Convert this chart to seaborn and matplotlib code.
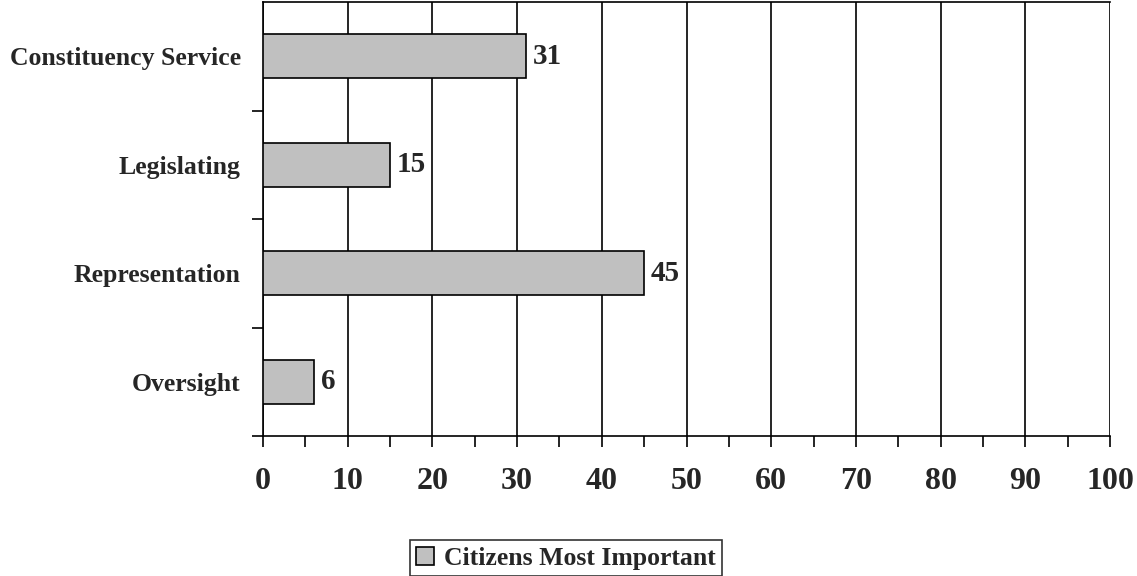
import pandas as pd
import matplotlib.pyplot as plt
import seaborn as sns
from matplotlib.ticker import MultipleLocator, FixedLocator

categories = ["Constituency Service", "Legislating", "Representation", "Oversight"]
values = [31, 15, 45, 6]
series_name = "Citizens Most Important"

df = pd.DataFrame({"role": categories, "pct": values, "series": series_name})

sns.set_style("white")
plt.rcParams["font.family"] = ["Liberation Serif", "DejaVu Serif"]
plt.rcParams["font.weight"] = "bold"

fig = plt.figure(figsize=(11.37, 5.76), dpi=100)
ax = fig.add_axes([263 / 1137, 1 - 436 / 576, (1110 - 263) / 1137, (436 - 2) / 576])

sns.barplot(data=df, x="pct", y="role", hue="series", palette=["#C0C0C0"],
            orient="h", width=0.41, dodge=False, edgecolor="black",
            linewidth=1.2, ax=ax, zorder=3)

ax.set_xlim(0, 100)
ax.set_ylim(3.5, -0.5)
ax.xaxis.set_major_locator(MultipleLocator(10))
ax.xaxis.set_minor_locator(MultipleLocator(5))
ax.yaxis.set_major_locator(FixedLocator(range(4)))
ax.yaxis.set_minor_locator(FixedLocator([0.5, 1.5, 2.5, 3.5]))
ax.grid(axis="x", which="major", color="black", linewidth=1.2, zorder=0)
ax.set_axisbelow(True)

for side in ["left", "bottom", "top"]:
    ax.spines[side].set_visible(True)
    ax.spines[side].set_color("black")
    ax.spines[side].set_linewidth(1.2)
ax.spines["right"].set_visible(False)

ax.tick_params(axis="x", which="both", direction="out", length=8, width=1.2,
               color="black", bottom=True, labelsize=23, pad=14)
ax.tick_params(axis="y", which="major", length=0, labelsize=18.5, pad=16)
ax.tick_params(axis="y", which="minor", direction="out", length=8, width=1.2,
               color="black", left=True)
for lab in ax.get_xticklabels() + ax.get_yticklabels():
    lab.set_fontweight("bold")

for c in ax.containers:
    ax.bar_label(c, labels=[str(v) for v in values], padding=5,
                 fontsize=21, fontweight="bold")

ax.set_xlabel("")
ax.set_ylabel("")

leg = ax.legend(loc="center", bbox_to_anchor=(566 / 1137, 1 - 558 / 576),
                bbox_transform=fig.transFigure, frameon=True, fancybox=False,
                edgecolor="black", prop={"size": 18.5, "weight": "bold"},
                handlelength=0.7, handleheight=0.7, handletextpad=0.4,
                borderpad=0.25, borderaxespad=0)
leg.get_frame().set_linewidth(1.2)

fig.savefig("out.png", dpi=100)
